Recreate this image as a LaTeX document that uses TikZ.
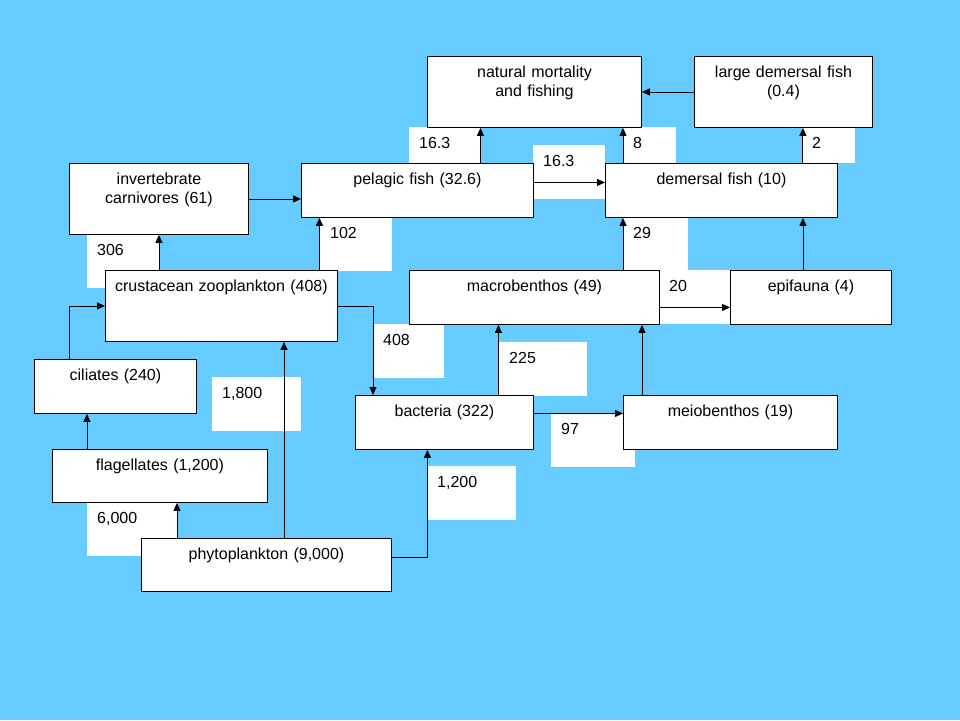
\documentclass[tikz,border=0pt]{standalone}
\usepackage{fontspec}
\setmainfont{Liberation Sans}
\usepackage{tikz}
\usetikzlibrary{arrows.meta}
\definecolor{sea}{RGB}{102,204,255}

\begin{document}
\begin{tikzpicture}[x=1pt,y=-1pt,>={Triangle[length=8pt,width=7pt]},font=\fontsize{16}{19}\selectfont]

    % Define styles
    \tikzstyle{pool} = [rectangle, draw, line width=0.9pt, fill=white, anchor=north west, align=center, inner xsep=0pt, inner ysep=9pt, text height=12pt]
    \tikzstyle{rate} = [rectangle, fill=white, anchor=north west, align=left, inner xsep=10pt, inner ysep=9pt, text height=12pt, text depth=24pt]
    \tikzstyle{flow} = [->, line width=0.9pt]

    % Background
    \fill[sea] (0,0) rectangle (960,720);

    % Flow values
    \node[rate, text width=53pt] (r306) at (87,234) {306};
    \node[rate, text width=52pt] (r102) at (320,217) {102};
    \node[rate, text width=52pt, text depth=6pt] (r16a) at (409,127) {16.3};
    \node[rate, text width=52pt] (r16b) at (533,145) {16.3};
    \node[rate, text width=33pt, text depth=6pt] (r8) at (623,127) {8};
    \node[rate, text width=33pt, text depth=6pt] (r2) at (802,127) {2};
    \node[rate, text width=45pt] (r29) at (623,217) {29};
    \node[rate, text width=51pt] (r20) at (659,270) {20};
    \node[rate, text width=51pt] (r408) at (373,324) {408};
    \node[rate, text width=68pt] (r225) at (499,342) {225};
    \node[rate, text width=64pt] (r97) at (551,413) {97};
    \node[rate, text width=69pt] (r1200) at (427,466) {1,200};
    \node[rate, text width=69pt] (r1800) at (212,377) {1,800};
    \node[rate, text width=70pt] (r6000) at (87,502) {6,000};

    % Compartments
    \node[pool, text width=214pt, text depth=41pt] (mortality) at (427,56) {natural mortality\\and fishing};
    \node[pool, text width=178pt, text depth=41pt] (bigdemersal) at (694,56) {large demersal fish\\(0.4)};
    \node[pool, text width=179pt, text depth=41pt] (carnivores) at (69,163) {invertebrate\\carnivores (61)};
    \node[pool, text width=232pt, text depth=24pt] (pelagic) at (301,163) {pelagic fish (32.6)};
    \node[pool, text width=232pt, text depth=24pt] (demersal) at (605,163) {demersal fish (10)};
    \node[pool, text width=232pt, text depth=41pt] (zooplankton) at (105,270) {crustacean zooplankton (408)};
    \node[pool, text width=250pt, text depth=24pt] (macro) at (409,270) {macrobenthos (49)};
    \node[pool, text width=161pt, text depth=24pt] (epifauna) at (730,270) {epifauna (4)};
    \node[pool, text width=162pt, text depth=24pt] (ciliates) at (34,359) {ciliates (240)};
    \node[pool, text width=178pt, text depth=24pt] (bacteria) at (355,395) {bacteria (322)};
    \node[pool, text width=214pt, text depth=24pt] (meio) at (623,395) {meiobenthos (19)};
    \node[pool, text width=215pt, text depth=23pt] (flagellates) at (52,449) {flagellates (1,200)};
    \node[pool, text width=250pt, text depth=23pt] (phyto) at (141,538) {phytoplankton (9,000)};

    % Flows
    \draw[flow] (bigdemersal.west) -- (mortality.east);
    \draw[flow] ([xshift=63pt]pelagic.north) -- ([xshift=63pt]pelagic.north |- mortality.south);
    \draw[flow] ([yshift=8pt]pelagic.east) -- ([yshift=8pt]pelagic.east -| demersal.west);
    \draw[flow] ([xshift=18pt]demersal.north west) -- ([xshift=18pt]demersal.north west |- mortality.south);
    \draw[flow] ([xshift=-35pt]demersal.north east) -- ([xshift=-35pt]demersal.north east |- bigdemersal.south);
    \draw[flow] (carnivores.east) -- (carnivores.east -| pelagic.west);
    \draw[flow] (zooplankton.north -| carnivores.south) -- (carnivores.south);
    \draw[flow] ([xshift=98pt]zooplankton.north) -- ([xshift=98pt]zooplankton.north |- pelagic.south);
    \draw[flow] (zooplankton.east) -| ([xshift=18pt]bacteria.north west);
    \draw[flow] ([xshift=-46pt]ciliates.north) |- (zooplankton.west);
    \draw[flow] ([xshift=35pt]flagellates.north west) -- ([xshift=35pt]flagellates.north west |- ciliates.south);
    \draw[flow] ([xshift=36pt]phyto.north west) -- ([xshift=36pt]phyto.north west |- flagellates.south);
    \draw[flow] ([xshift=143pt]phyto.north west) -- ([xshift=143pt]phyto.north west |- zooplankton.south);
    \draw[flow] ([yshift=8pt]phyto.east) -| ([xshift=-17pt]bacteria.south);
    \draw[flow] ([xshift=54pt]bacteria.north) -- ([xshift=54pt]bacteria.north |- macro.south);
    \draw[flow] ([yshift=9pt]bacteria.east) -- ([yshift=9pt]bacteria.east -| meio.west);
    \draw[flow] ([xshift=19pt]meio.north west) -- ([xshift=19pt]meio.north west |- macro.south);
    \draw[flow] ([xshift=18pt]demersal.south west |- macro.north) -- ([xshift=18pt]demersal.south west);
    \draw[flow] ([yshift=-10pt]macro.east) -- ([yshift=-10pt]macro.east -| epifauna.west);
    \draw[flow] ([xshift=-8pt]epifauna.north) -- ([xshift=-8pt]epifauna.north |- demersal.south);

\end{tikzpicture}
\end{document}
